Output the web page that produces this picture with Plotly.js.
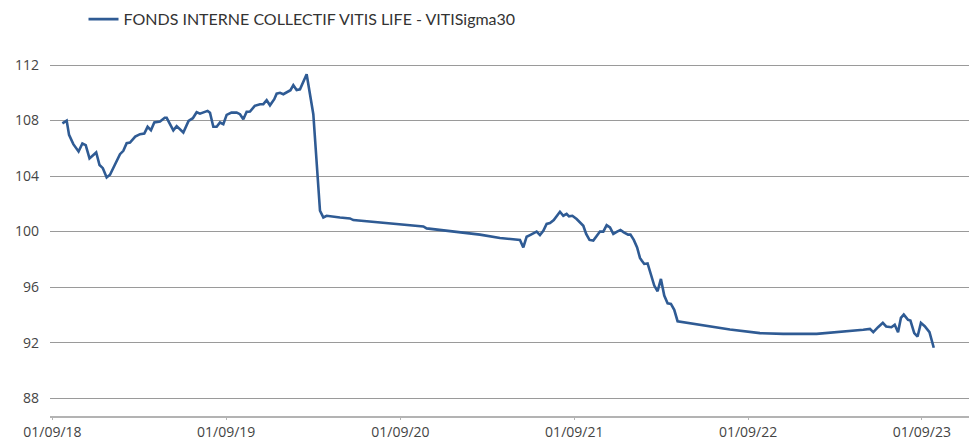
<!DOCTYPE html>
<html>
<head>
<meta charset="utf-8">
<script src="https://cdn.plot.ly/plotly-3.0.1.min.js"></script>
<style>html,body{margin:0;padding:0;background:#fff;}#chart{width:971px;height:441px;}</style>
</head>
<body>
<div id="chart"></div>
<script>
const seriesName = "FONDS INTERNE COLLECTIF VITIS LIFE - VITISigma30";
const dates = [
"2018-09-22","2018-10-01","2018-10-06","2018-10-15","2018-10-26","2018-11-03","2018-11-10","2018-11-18","2018-12-02","2018-12-09",
"2018-12-16","2018-12-24","2018-12-31","2019-01-11","2019-01-21","2019-01-28","2019-02-04","2019-02-11","2019-02-22","2019-03-04",
"2019-03-13","2019-03-20","2019-03-27","2019-04-03","2019-04-15","2019-04-25","2019-04-29","2019-05-13","2019-05-20","2019-06-03",
"2019-06-14","2019-06-23","2019-07-01","2019-07-08","2019-07-15","2019-07-24","2019-07-29","2019-08-05","2019-08-12","2019-08-19",
"2019-08-26","2019-09-02","2019-09-12","2019-09-23","2019-09-30","2019-10-07","2019-10-14","2019-10-21","2019-10-31","2019-11-11",
"2019-11-18","2019-11-25","2019-12-02","2019-12-11","2019-12-16","2019-12-23","2019-12-30","2020-01-09","2020-01-14","2020-01-20",
"2020-01-27","2020-02-03","2020-02-10","2020-02-17","2020-03-02","2020-03-16","2020-03-23","2020-03-30","2020-04-27","2020-05-18",
"2020-05-25","2020-08-03","2020-10-19","2020-10-26","2021-01-11","2021-02-15","2021-03-29","2021-05-10","2021-05-17","2021-05-24",
"2021-05-31","2021-06-14","2021-06-21","2021-06-28","2021-07-05","2021-07-12","2021-07-20","2021-07-27","2021-08-02","2021-08-09",
"2021-08-16","2021-08-21","2021-08-28","2021-09-06","2021-09-13","2021-09-20","2021-09-26","2021-10-03","2021-10-11","2021-10-20",
"2021-10-25","2021-11-01","2021-11-08","2021-11-15","2021-11-22","2021-11-30","2021-12-07","2021-12-14","2021-12-23","2021-12-28",
"2022-01-04","2022-01-11","2022-01-17","2022-01-21","2022-01-26","2022-02-02","2022-02-09","2022-02-16","2022-02-23","2022-03-02",
"2022-03-09","2022-03-16","2022-03-23","2022-03-30","2022-04-06","2022-04-18","2022-05-23","2022-07-04","2022-07-25","2022-09-26",
"2022-11-14","2023-01-23","2023-03-13","2023-05-01","2023-05-15","2023-05-22","2023-06-01","2023-06-11","2023-06-18","2023-06-29",
"2023-07-06","2023-07-13","2023-07-19","2023-07-25","2023-08-03","2023-08-08","2023-08-16","2023-08-23","2023-08-30","2023-09-07",
"2023-09-17","2023-09-26"
];
const values = [
107.8,108.0,106.97,106.3,105.77,106.35,106.23,105.27,105.7,104.8,
104.57,103.9,104.1,104.86,105.58,105.82,106.37,106.42,106.85,107.02,
107.06,107.55,107.31,107.86,107.93,108.2,108.2,107.3,107.6,107.14,
107.98,108.17,108.6,108.5,108.57,108.7,108.57,107.55,107.55,107.86,
107.74,108.41,108.57,108.57,108.46,108.1,108.63,108.65,109.06,109.18,
109.18,109.47,109.1,109.54,109.94,110.0,109.9,110.06,110.19,110.55,
110.2,110.25,110.85,111.34,108.46,101.5,101.02,101.14,101.02,100.95,
100.83,100.62,100.37,100.23,99.9,99.78,99.54,99.4,98.86,99.63,
99.75,100.0,99.75,100.06,100.55,100.62,100.83,101.14,101.43,101.14,
101.27,101.1,101.14,100.9,100.66,100.42,99.83,99.4,99.35,99.83,
100.0,100.0,100.47,100.3,99.83,100.0,100.11,99.94,99.78,99.78,
99.4,98.86,98.1,97.9,97.67,97.71,96.83,96.11,95.7,96.59,
95.39,94.83,94.79,94.36,93.54,93.47,93.3,93.04,92.94,92.68,
92.63,92.63,92.75,92.92,92.99,92.75,93.11,93.42,93.16,93.11,
93.28,92.75,93.78,94.02,93.64,93.59,92.68,92.44,93.42,93.18,
92.75,91.63
];
const xTickVals = ["2018-09-01","2019-09-01","2020-09-01","2021-09-01","2022-09-01","2023-09-01"];
const xTickText = ["01/09/18","01/09/19","01/09/20","01/09/21","01/09/22","01/09/23"];
const yTickVals = [88,92,96,100,104,108,112];

const trace = {
  x: dates, y: values, type: "scatter", mode: "lines", name: seriesName,
  line: {color: "#2f5b94", width: 2.6}
};
const layout = {
  width: 971, height: 441,
  margin: {l: 50, r: 2, t: 35, b: 25},
  paper_bgcolor: "#ffffff", plot_bgcolor: "#ffffff",
  font: {family: "Open Sans, Arial, sans-serif", size: 14, color: "#444444"},
  showlegend: true,
  legend: {
    orientation: "h", xref: "container", yref: "container",
    x: 0.086, y: 0.995, xanchor: "left", yanchor: "top",
    font: {family: "Lato, Open Sans, sans-serif", size: 16, color: "#333333"},
    bgcolor: "rgba(0,0,0,0)"
  },
  xaxis: {
    type: "date", range: ["2018-08-27", "2023-12-09"],
    tickvals: xTickVals, ticktext: xTickText,
    showgrid: false, zeroline: false,
    showline: true, linecolor: "#b3b3b3", linewidth: 2,
    ticks: "outside", ticklen: 2, tickcolor: "#b3b3b3", tickwidth: 1,
    tickfont: {size: 14, color: "#444444"}
  },
  yaxis: {
    range: [86.71, 114.08], tickvals: yTickVals,
    showgrid: true, gridcolor: "#9a9a9a", gridwidth: 1,
    zeroline: false, showline: false, ticks: "",
    ticklabelstandoff: 10,
    tickfont: {size: 14, color: "#444444"}
  }
};
Plotly.newPlot("chart", [trace], layout, {staticPlot: true, displayModeBar: false});
</script>
</body>
</html>
